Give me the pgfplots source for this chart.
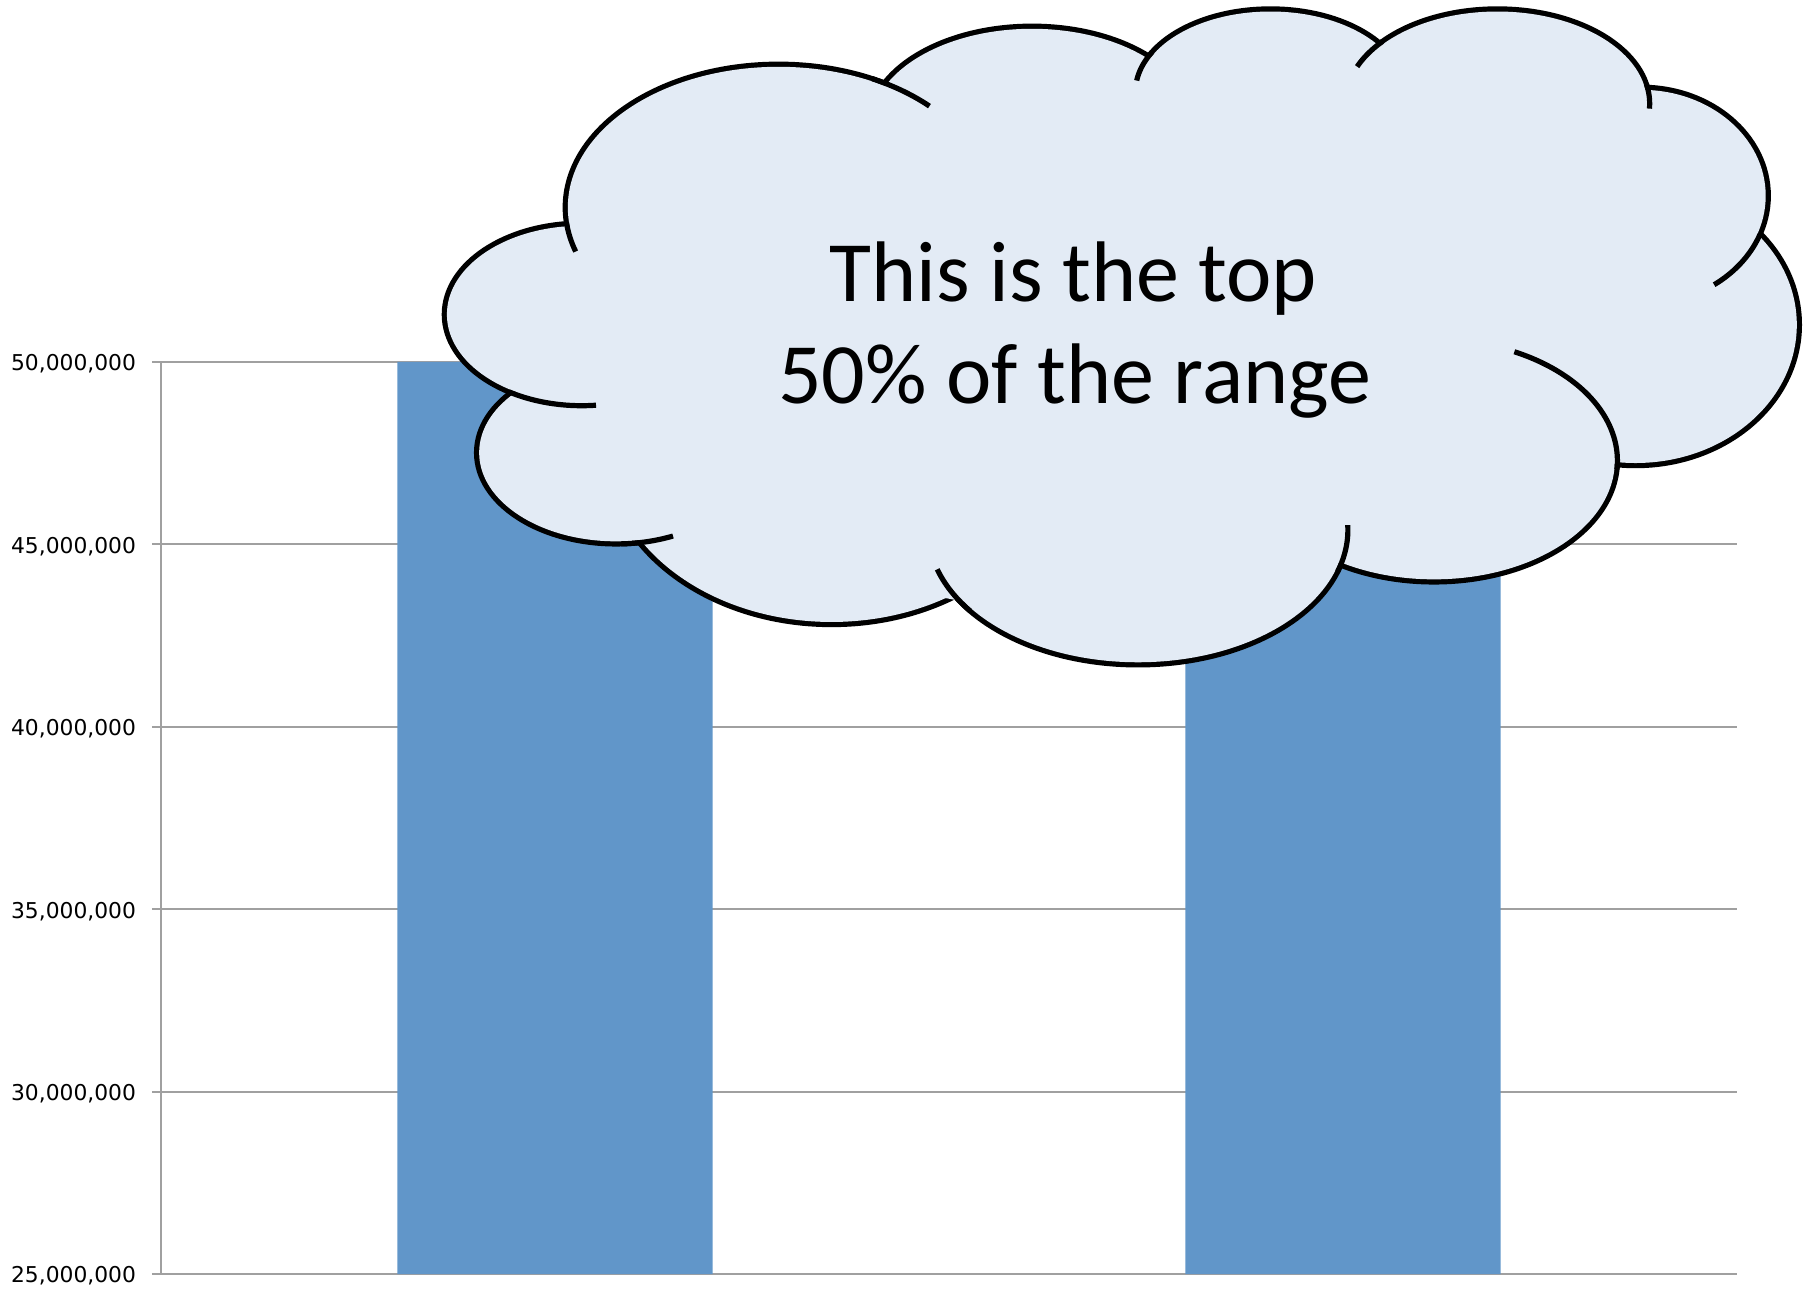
\documentclass[border=0pt]{standalone}
\usepackage{pgfplots}
\pgfplotsset{compat=1.18}
\usepackage{fontspec}
\setmainfont{DejaVu Sans}
\newfontfamily\cloudfont{Carlito}
\definecolor{barblue}{RGB}{97,150,201}
\definecolor{cloudfill}{RGB}{227,235,245}
\definecolor{gridgray}{RGB}{160,160,160}
\begin{document}
\begin{tikzpicture}
\path[use as bounding box] (0,0) rectangle (903pt,-646.5pt);
\begin{axis}[
  at={(80.5pt,-637pt)}, anchor=south west,
  scale only axis, width=788pt, height=456pt,
  xmin=-0.5, xmax=1.5, ymin=25000000, ymax=50000000,
  ytick={25000000,30000000,35000000,40000000,45000000,50000000},
  xtick=\empty,
  axis x line*=bottom, axis y line*=left,
  axis line style={gridgray, line width=1pt, -},
  ymajorgrids, grid style={gridgray, line width=1pt},
  tick align=outside, major tick length=4.5pt,
  ytick style={gridgray, line width=1pt},
  scaled y ticks=false,
  yticklabel style={font=\fontsize{10.9}{12}\selectfont, xshift=-4.5pt, yshift=-1pt, /pgf/number format/fixed, /pgf/number format/1000 sep={,}},
  /pgf/number format/assume math mode=true,
  ybar, bar width=0.4,
]
\addplot[fill=barblue, draw=none] coordinates {(0,50000000) (1,48000000)};
\end{axis}
\begin{scope}[x=0.575893pt, y=-0.575893pt]
  \def\u{0.575893pt}
  \def\lobes{676/180/183/122, 896/110/140/85, 1103/80/115/70, 1300/90/130/80,
    1425/170/108/92, 1420/282/140/120, 1245/400/157/103, 988/460/180/115,
    722/390/195/150, 535/393/119/77, 505/273/117/77}
  % outer strokes
  \foreach \cx/\cy/\rx/\ry in \lobes {
    \draw[line width=5.2pt, black] (\cx,\cy) ellipse [x radius=\rx*\u, y radius=\ry*\u];
  }
  % fill
  \fill[cloudfill] (497,198) -- (767,76) -- (997,50) -- (1195,38) -- (1428,80) -- (1522,208)
     -- (1400,402) -- (1160,488) -- (835,522) -- (548,466) -- (450,340) -- cycle;
  \foreach \cx/\cy/\rx/\ry in \lobes {
    \fill[cloudfill] (\cx,\cy) ellipse [x radius=\rx*\u, y radius=\ry*\u];
  }
  % tails
  \foreach \cx/\cy/\rx/\ry/\ta/\tb in {676/180/183/122/174/162, 676/180/183/122/-64/-45,
     505/273/117/77/122/84, 535/393/119/77/88/66, 988/460/180/115/143/163,
     988/460/180/115/18/-2, 1245/400/157/103/4/-64, 1425/170/108/92/21/55,
     1300/90/130/80/-12/3, 1300/90/130/80/221/203, 1103/80/115/70/209/188} {
    \draw[line width=2.6pt, black, line cap=butt]
      plot[domain=\ta:\tb, samples=30, variable=\t, smooth]
      ({\cx+(\rx+2.25)*cos(\t)},{\cy+(\ry+2.25)*sin(\t)});
  }
  \node[anchor=base, inner sep=0pt, font=\cloudfont\fontsize{43}{50}\selectfont] at (932,262) {This is the top};
  \node[anchor=base, inner sep=0pt, font=\cloudfont\fontsize{43}{50}\selectfont] at (933,350) {50\% of the range};
\end{scope}
\end{tikzpicture}
\end{document}
